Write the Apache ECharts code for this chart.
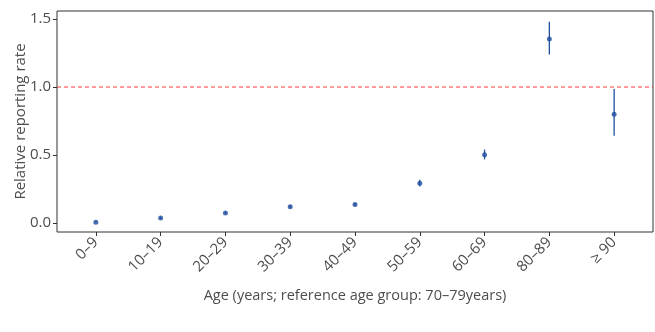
<!DOCTYPE html>
<html><head><meta charset="utf-8">
<script src="https://cdn.jsdelivr.net/npm/echarts@6/dist/echarts.min.js"></script>
<style>html,body{margin:0;padding:0;background:#fff}#c{width:655px;height:332px}</style>
</head><body><div id="c"></div>
<script>
const categories = ['0–9','10–19','20–29','30–39','40–49','50–59','60–69','80–89','≥ 90'];
const estimate = [0.005,0.037,0.074,0.12,0.137,0.292,0.502,1.353,0.80];
const lower = [0.0,0.030,0.066,0.110,0.126,0.268,0.468,1.240,0.642];
const upper = [0.010,0.044,0.082,0.130,0.148,0.318,0.540,1.480,0.985];
const yTicks = [0,0.5,1.0,1.5];
const referenceLine = 1.0;

const font = 'Open Sans';
const txt = '#4d4d4d';
const blue = '#1f4f9f';
const idx = categories.map((c,i)=>i);

const chart = echarts.init(document.getElementById('c'), null, {renderer:'canvas'});
chart.setOption({
  animation:false,
  grid:{left:57,right:2,top:11,bottom:100,show:true,borderColor:'#333',borderWidth:1,backgroundColor:'#fff',
    outerBoundsMode:'none',containLabel:false},
  xAxis:{type:'value',min:-0.6,max:categories.length-1+0.6,
    name:'Age (years; reference age group: 70–79years)',nameLocation:'middle',nameGap:56,nameMoveOverlap:false,
    nameTextStyle:{fontFamily:font,fontSize:14.5,color:txt},
    axisLine:{show:false,onZero:false},splitLine:{show:false},
    axisTick:{show:true,length:4,lineStyle:{color:'#333'},customValues:idx},
    axisLabel:{customValues:idx,rotate:45,fontFamily:font,fontSize:15,color:txt,margin:8,
      formatter:v=>categories[Math.round(v)]}},
  yAxis:{type:'value',min:-0.066,max:1.559,
    name:'Relative reporting rate',nameLocation:'middle',nameGap:29,nameMoveOverlap:false,
    nameTextStyle:{fontFamily:font,fontSize:15,color:txt},
    axisLine:{show:false,onZero:false},splitLine:{show:false},
    axisTick:{show:true,length:4,lineStyle:{color:'#333'},customValues:yTicks},
    axisLabel:{customValues:yTicks,fontFamily:font,fontSize:15,color:txt,margin:6,
      formatter:v=>v.toFixed(1)}},
  series:[
    {type:'custom',data:idx.map(i=>[i,lower[i],upper[i]]),z:2,
      renderItem:(p,api)=>{
        const a=api.coord([api.value(0),api.value(1)]);
        const b=api.coord([api.value(0),api.value(2)]);
        return {type:'line',shape:{x1:a[0],y1:a[1],x2:b[0],y2:b[1]},
          style:{stroke:blue,lineWidth:1.3}};
      }},
    {type:'custom',data:[[referenceLine]],z:1,
      renderItem:(p,api)=>{
        const y=api.coord([0,api.value(0)])[1];
        return {type:'line',shape:{x1:p.coordSys.x,y1:y,x2:p.coordSys.x+p.coordSys.width,y2:y},
          style:{stroke:'#ff3b3b',lineWidth:1,lineDash:[4,3]}};
      }},
    {type:'scatter',data:idx.map(i=>[i,estimate[i]]),symbol:'circle',symbolSize:5,
      itemStyle:{color:blue},z:3}
  ]
});
</script></body></html>
